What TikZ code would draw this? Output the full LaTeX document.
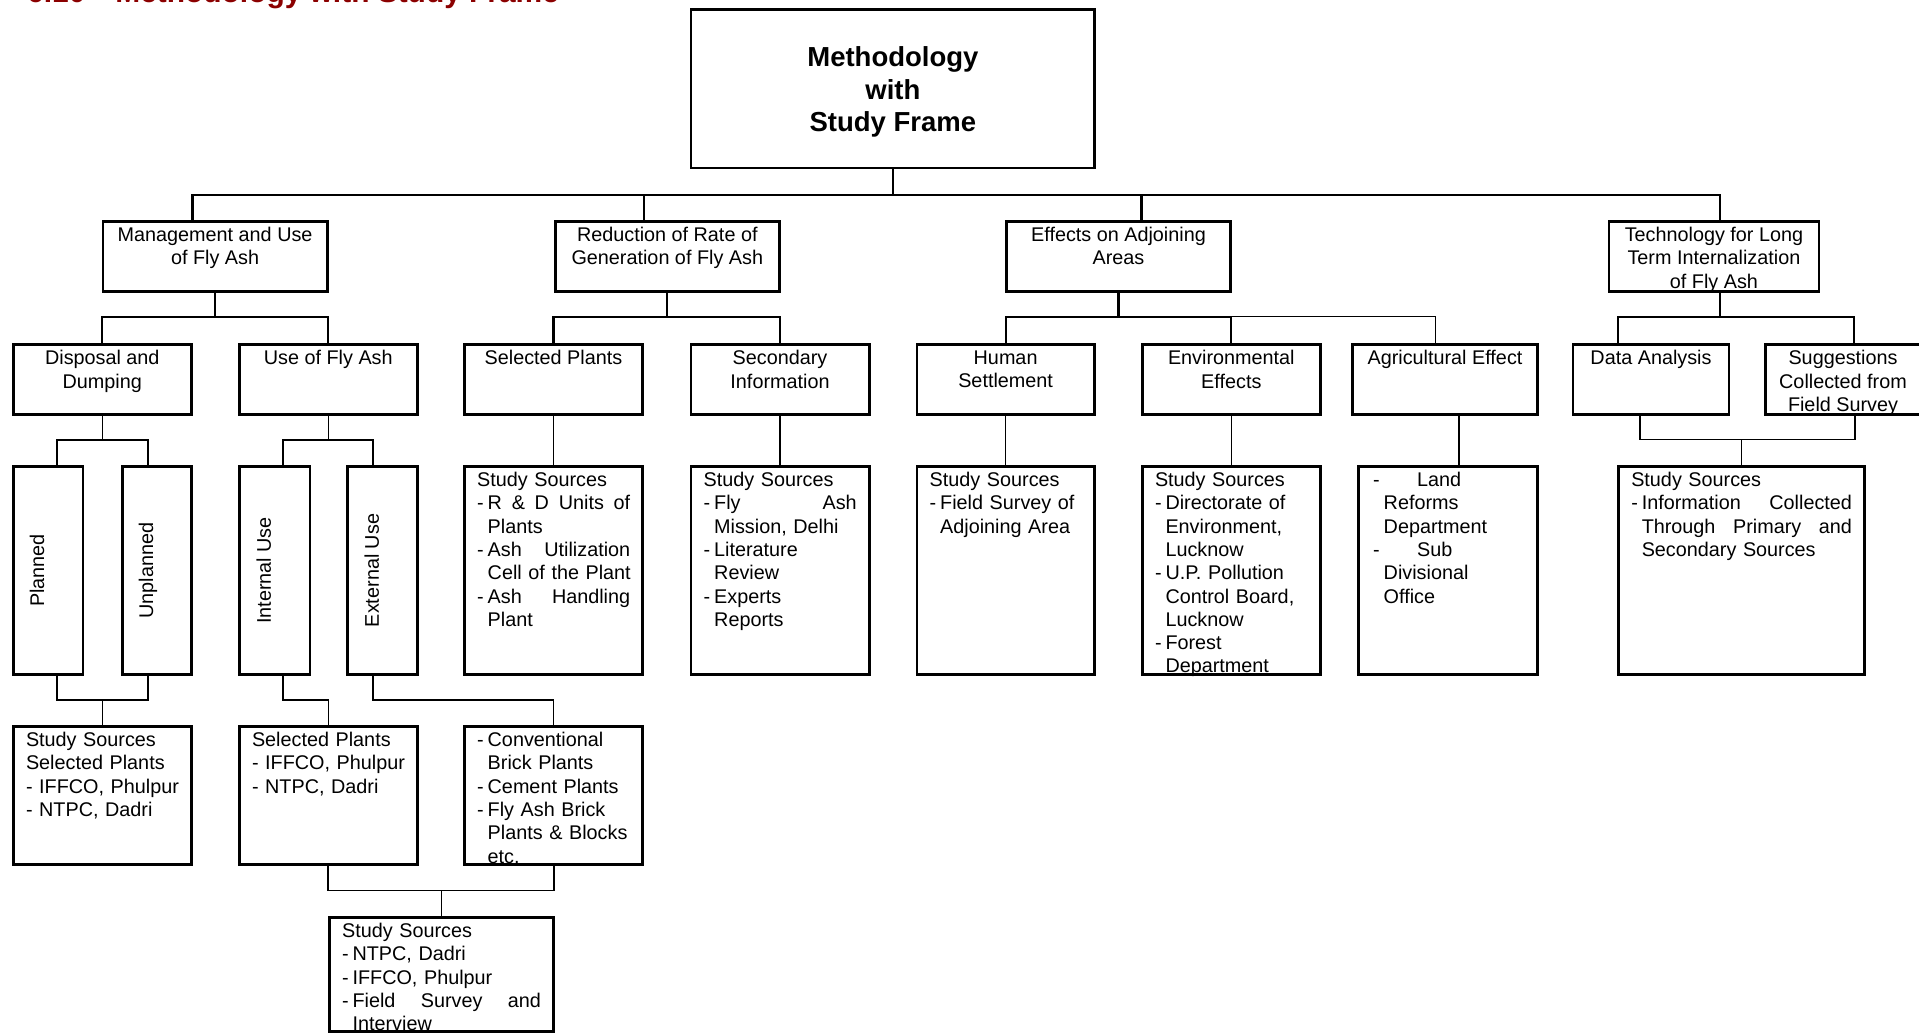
\documentclass[tikz,border=0pt]{standalone}
\usepackage{fontspec}
\setmainfont{Liberation Sans}
\usetikzlibrary{positioning}
\definecolor{titlered}{RGB}{139,0,0}
\newcommand{\dsh}{\makebox[10.5pt][l]{-}}
\newcommand{\cont}{\hspace*{10.5pt}}

\begin{document}
\begin{tikzpicture}[x=1pt,y=-1pt,
  box/.style={draw, line width=2.7pt, inner sep=0pt},
  sz/.style 2 args={minimum width=#1pt, minimum height=#2pt},
  txt/.style={inner sep=0pt, align=center, font=\fontsize{19.8}{23.3}\selectfont},
  src/.style={txt, align=left},
  upright/.style={txt, rotate=90, anchor=base},
  bus/.style={line width=2.7pt},
  link/.style={line width=2.2pt},
  thin/.style={line width=1.4pt},
  thinner/.style={line width=1pt}]
\useasboundingbox (0,0) rectangle (1919,1034);

% heading, cut by the top edge
\node[anchor=base west, inner sep=0pt, text=titlered, font=\bfseries\fontsize{29.9}{36}\selectfont] (title) at (27,2.5) {6.10\hspace{30pt}Methodology with Study Frame};

\node[box, sz={403.6}{158.3}] (main) at (892.9,88.8) {};
\node[inner sep=0pt, align=center, font=\bfseries\fontsize{27.5}{32.4}\selectfont] (main-t) at (892.9,92) {Methodology\\with\\Study Frame};

% first level
\node[box, sz={224.3}{70}] (mgmt) at (215.1,256.4) {};
\node[txt, below=7pt of mgmt.north] (mgmt-t) {Management and Use\\of Fly Ash};
\node[box, sz={223.8}{70}] (redn) at (667.3,256.4) {};
\node[txt, below=7pt of redn.north] (redn-t) {Reduction of Rate of\\Generation of Fly Ash};
\node[box, sz={223.7}{70}] (effc) at (1118.5,256.4) {};
\node[txt, below=7pt of effc.north] (effc-t) {Effects on Adjoining\\Areas};
\node[box, sz={210.1}{70}] (tech) at (1713.9,256.4) {};
\node[txt, below=7pt of tech.north] (tech-t) {Technology for Long\\Term Internalization\\of Fly Ash};

% second level
\node[box, sz={178.3}{69.7}] (disp) at (102.3,379.5) {};
\node[txt, below=7pt of disp.north] (disp-t) {Disposal and\\Dumping};
\node[box, sz={178.3}{69.7}] (usef) at (328.3,379.5) {};
\node[txt, below=7pt of usef.north] (usef-t) {Use of Fly Ash};
\node[box, sz={178.3}{69.7}] (selp) at (553.5,379.5) {};
\node[txt, below=7pt of selp.north] (selp-t) {Selected Plants};
\node[box, sz={178.3}{69.7}] (secy) at (780,379.5) {};
\node[txt, below=7pt of secy.north] (secy-t) {Secondary\\Information};
\node[box, sz={177.5}{69.7}] (humn) at (1005.6,379.5) {};
\node[txt, below=7pt of humn.north] (humn-t) {Human\\Settlement};
\node[box, sz={178.3}{69.7}] (envr) at (1231.3,379.5) {};
\node[txt, below=7pt of envr.north] (envr-t) {Environmental\\Effects};
\node[box, sz={184.8}{69.7}] (agri) at (1445,379.5) {};
\node[txt, below=7pt of agri.north] (agri-t) {Agricultural Effect};
\node[box, sz={156}{69.7}] (data) at (1651,379.5) {};
\node[txt, below=7pt of data.north] (data-t) {Data Analysis};
\node[box, sz={155.4}{69.7}] (sugg) at (1843,379.5) {};
\node[txt, below=7pt of sugg.north] (sugg-t) {Suggestions\\Collected from\\Field Survey};

% third level
\node[box, sz={69.7}{208.3}] (plan) at (48,570.5) {};
\node[upright] (plan-t) at (44.2,570.5) {Planned};
\node[box, sz={69.3}{208.3}] (unpl) at (156.8,570.5) {};
\node[upright] (unpl-t) at (153,570.5) {Unplanned};
\node[box, sz={70.9}{208.3}] (intu) at (274.6,570.5) {};
\node[upright] (intu-t) at (270.8,570.5) {Internal Use};
\node[box, sz={69.7}{208.3}] (extu) at (382.6,570.5) {};
\node[upright] (extu-t) at (378.8,570.5) {External Use};

\node[box, sz={178.3}{208.3}] (selsrc) at (553.5,570.5) {};
\node[src, text width=153pt, below right=7pt and 14pt of selsrc.north west] (selsrc-t)
  {Study Sources\\ \dsh R \hfill \& \hfill D \hfill Units \hfill of\\ \cont Plants\\
   \dsh Ash \hfill Utilization\\ \cont Cell~of~the~Plant\\ \dsh Ash \hfill Handling\\ \cont Plant};
\node[box, sz={178.3}{208.3}] (secsrc) at (780,570.5) {};
\node[src, text width=153pt, below right=7pt and 14pt of secsrc.north west] (secsrc-t)
  {Study Sources\\ \dsh Fly \hfill Ash\\ \cont Mission, Delhi\\ \dsh Literature\\ \cont Review\\
   \dsh Experts\\ \cont Reports};
\node[box, sz={177.5}{208.3}] (humsrc) at (1005.6,570.5) {};
\node[src, text width=152pt, below right=7pt and 14pt of humsrc.north west] (humsrc-t)
  {Study Sources\\ \dsh Field Survey of\\ \cont Adjoining Area};
\node[box, sz={178.3}{208.3}] (envsrc) at (1231.3,570.5) {};
\node[src, text width=153pt, below right=7pt and 14pt of envsrc.north west] (envsrc-t)
  {Study Sources\\ \dsh Directorate of\\ \cont Environment,\\ \cont Lucknow\\ \dsh U.P. Pollution\\
   \cont Control Board,\\ \cont Lucknow\\ \dsh Forest\\ \cont Department};
\node[box, sz={178.9}{208.3}] (agrsrc) at (1448,570.5) {};
\node[src, text width=150pt, below right=7pt and 15.8pt of agrsrc.north west] (agrsrc-t)
  {\dsh\hspace*{33.5pt}Land\\ \cont Reforms\\ \cont Department\\ \dsh\hspace*{33.5pt}Sub\\
   \cont Divisional\\ \cont Office};
\node[box, sz={246}{208.3}] (techsrc) at (1741.4,570.5) {};
\node[src, text width=220.7pt, below right=7pt and 14pt of techsrc.north west] (techsrc-t)
  {Study Sources\\ \dsh Information \hfill Collected\\ \cont Through \hfill Primary \hfill and\\
   \cont Secondary Sources};

% fourth level
\node[box, sz={178.3}{138.3}] (dispsrc) at (102.3,795.5) {};
\node[src, text width=153pt, below right=7pt and 14pt of dispsrc.north west] (dispsrc-t)
  {Study Sources\\ Selected Plants\\ - IFFCO, Phulpur\\ - NTPC, Dadri};
\node[box, sz={178.3}{138.3}] (usesrc) at (328.3,795.5) {};
\node[src, text width=153pt, below right=7pt and 14pt of usesrc.north west] (usesrc-t)
  {Selected Plants\\ - IFFCO, Phulpur\\ - NTPC, Dadri};
\node[box, sz={178.3}{138.3}] (extsrc) at (553.5,795.5) {};
\node[src, text width=153pt, below right=7pt and 14pt of extsrc.north west] (extsrc-t)
  {\dsh Conventional\\ \cont Brick Plants\\ \dsh Cement Plants\\ \dsh Fly Ash Brick\\
   \cont Plants \& Blocks\\ \cont etc.};

\node[box, sz={224.1}{114.3}] (fin) at (441.3,974.5) {};
\node[src, text width=198.8pt, below right=7pt and 14pt of fin.north west] (fin-t)
  {Study Sources\\ \dsh NTPC, Dadri\\ \dsh IFFCO, Phulpur\\ \dsh Field \hfill Survey \hfill and\\
   \cont Interview};

% top bus
\coordinate (t0) at (892.9,195);
\coordinate (t1) at (192.4,195);
\coordinate (t2) at (644,195);
\coordinate (t3) at (1141.7,195);
\coordinate (t4) at (1720,195);
\draw[bus] (main) -- (t0);
\draw[bus] (t1 |- mgmt.north) -- (t1) -- (t4) -- (t4 |- tech.north);
\draw[bus] (t2) -- (t2 |- redn.north);
\draw[bus] (t3) -- (t3 |- effc.north);

% second level links
\coordinate (m1) at (102.3,316.7);
\coordinate (m2) at (328.3,316.7);
\draw[link] (mgmt) -- (mgmt |- m1);
\draw[link] (disp) -- (m1) -- (m2) -- (usef);
\coordinate (r1) at (553.5,316.7);
\coordinate (r2) at (780,316.7);
\draw[link] (redn) -- (redn |- r1);
\draw[link] (selp) -- (r1) -- (r2) -- (secy);
\coordinate (e1) at (1005.6,316.7);
\coordinate (e2) at (1231.3,316.7);
\coordinate (e3) at (1435,316.7);
\draw[link] (effc) -- (effc |- e1);
\draw[link] (humn) -- (e1) -- (e2) -- (envr);
\draw[thinner] (e2) -- (e3) -- (e3 |- agri.north);
\coordinate (k0) at (1720,316.7);
\coordinate (k1) at (1618,316.7);
\coordinate (k2) at (1854,316.7);
\draw[link] (k0 |- tech.south) -- (k0);
\draw[link] (k1 |- data.north) -- (k1) -- (k2) -- (k2 |- sugg.north);

% third level links
\coordinate (d1) at (57,440);
\coordinate (d2) at (148,440);
\draw[thin] (disp) -- (disp |- d1);
\draw[thin] (d1 |- plan.north) -- (d1) -- (d2) -- (d2 |- unpl.north);
\coordinate (u1) at (283,440);
\coordinate (u2) at (373,440);
\draw[thin] (usef) -- (usef |- u1);
\draw[thin] (u1 |- intu.north) -- (u1) -- (u2) -- (u2 |- extu.north);
\draw[thin] (selp) -- (selsrc);
\draw[thin] (secy) -- (secsrc);
\draw[thin] (humn) -- (humsrc);
\draw[thin] (envr) -- (envsrc);
\coordinate (a1) at (1459,440);
\draw[thin] (a1 |- agri.south) -- (a1 |- agrsrc.north);
\coordinate (g1) at (1640,439.3);
\coordinate (g2) at (1855,439.3);
\coordinate (g3) at (1741.4,439.3);
\draw[thin] (g1 |- data.south) -- (g1) -- (g2) -- (g2 |- sugg.south);
\draw[thin] (g3) -- (techsrc);

% fourth level links
\coordinate (p0) at (102.3,700);
\coordinate (p1) at (57,700);
\coordinate (p2) at (148,700);
\draw[thin] (p1 |- plan.south) -- (p1) -- (p2) -- (p2 |- unpl.south);
\draw[thin] (p0) -- (dispsrc);
\coordinate (i1) at (283,700);
\coordinate (i2) at (328.3,700);
\draw[thin] (i1 |- intu.south) -- (i1) -- (i2) -- (usesrc);
\coordinate (x1) at (373,700);
\coordinate (x2) at (553.5,700);
\draw[thin] (x1 |- extu.south) -- (x1) -- (x2) -- (extsrc);

% last box
\coordinate (f0) at (441.3,890.7);
\coordinate (f1) at (328,890.7);
\coordinate (f2) at (554,890.7);
\draw[thin] (f1 |- usesrc.south) -- (f1) -- (f2) -- (f2 |- extsrc.south);
\draw[thin] (f0) -- (fin);
\end{tikzpicture}
\end{document}
